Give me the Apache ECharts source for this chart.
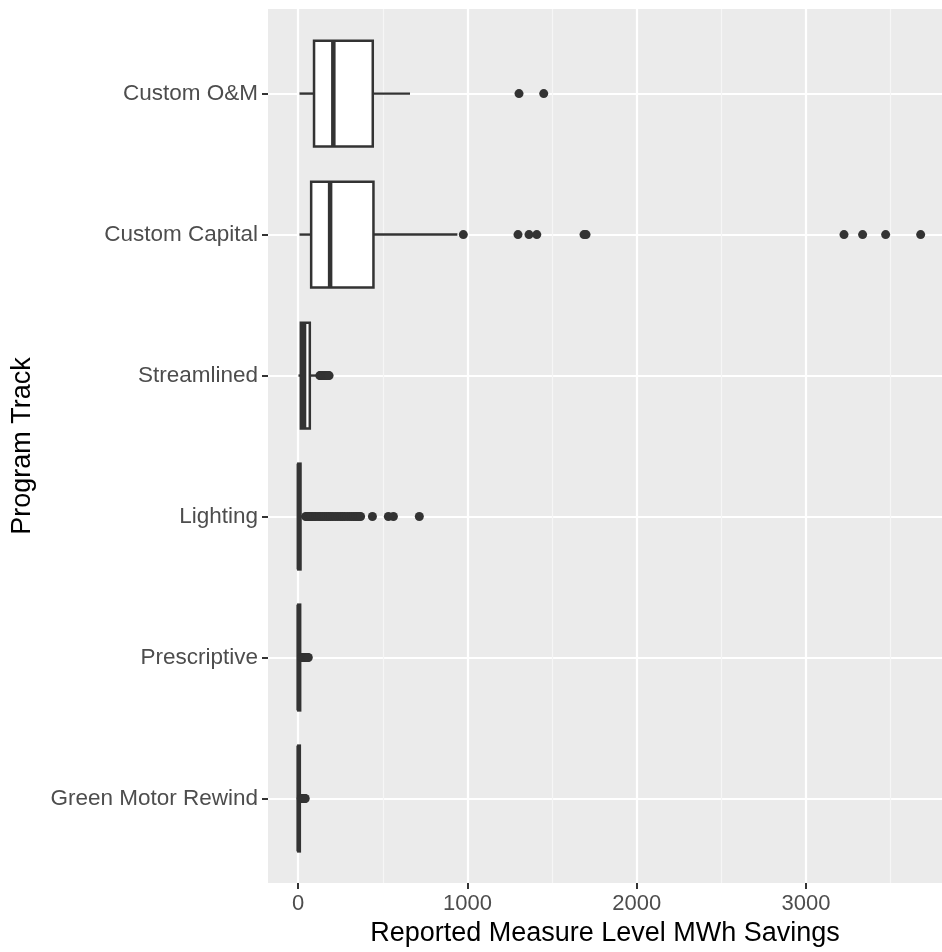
<!DOCTYPE html>
<html>
<head>
<meta charset="utf-8">
<script src="https://cdn.jsdelivr.net/npm/echarts@6/dist/echarts.min.js"></script>
<style>
html,body{margin:0;padding:0;background:#fff;}
#chart{width:942px;height:952px;}
</style>
</head>
<body>
<div id="chart"></div>
<script>
// Categories, top to bottom
const categories = ['Custom O&M', 'Custom Capital', 'Streamlined', 'Lighting', 'Prescriptive', 'Green Motor Rewind'];

// Box statistics (MWh), same order as categories
const boxLow    = [8,   8,   2,   0,  0,  0];
const boxQ1     = [94,  77,  16,  1,  1,  1];
const boxMedian = [208, 189, 35,  4,  3,  3];
const boxQ3     = [441, 445, 69,  14, 12, 10];
const boxHigh   = [661, 941, 118, 32, 18, 16];

// Outliers per category
const outliersCustomOM = [1305, 1451];
const outliersCustomCapital = [976, 1299, 1364, 1410, 1689, 1701, 3225, 3335, 3471, 3678];
const outliersStreamlined = [128, 133, 138, 142, 147, 151, 156, 160, 166, 171, 176, 183];
const outliersLighting = [45, 52, 60, 68, 75, 85, 95, 105, 118, 130, 142, 155, 168, 180, 192, 205, 220, 235, 250, 262, 275, 290, 305, 318, 330, 342, 352, 360, 369, 439, 533, 563, 716];
const outliersPrescriptive = [20, 24, 28, 32, 36, 40, 45, 50, 55, 60];
const outliersGreenMotor = [18, 22, 26, 30, 34, 38, 42];

// Axis ticks
const xTicks = [0, 1000, 2000, 3000];
const xMinorTicks = [500, 1500, 2500, 3500];
const yTicks = [1, 2, 3, 4, 5, 6];

const outlierGroups = [outliersCustomOM, outliersCustomCapital, outliersStreamlined, outliersLighting, outliersPrescriptive, outliersGreenMotor];

const boxData = categories.map((c, i) => [i + 1, boxLow[i], boxQ1[i], boxMedian[i], boxQ3[i], boxHigh[i]]);
const outlierData = [];
outlierGroups.forEach((g, i) => g.forEach(v => outlierData.push([v, i + 1])));

const FONT = '"Liberation Sans", Arial, sans-serif';
const DARK = '#333333';

function renderBox(params, api) {
  const y = api.value(0);
  const pLow = api.coord([api.value(1), y]);
  const pQ1 = api.coord([api.value(2), y]);
  const pMed = api.coord([api.value(3), y]);
  const pQ3 = api.coord([api.value(4), y]);
  const pHigh = api.coord([api.value(5), y]);
  const h = Math.abs(api.size([0, 0.75])[1]);
  const cy = pQ1[1];
  const top = cy - h / 2;
  return {
    type: 'group',
    children: [
      { type: 'line', shape: { x1: pLow[0], y1: cy, x2: pQ1[0], y2: cy }, style: { stroke: DARK, lineWidth: 2.4 } },
      { type: 'line', shape: { x1: pQ3[0], y1: cy, x2: pHigh[0], y2: cy }, style: { stroke: DARK, lineWidth: 2.4 } },
      { type: 'rect', shape: { x: pQ1[0], y: top, width: pQ3[0] - pQ1[0], height: h }, style: { fill: '#FFFFFF', stroke: DARK, lineWidth: 2.5 } },
      { type: 'line', shape: { x1: pMed[0], y1: top, x2: pMed[0], y2: top + h }, style: { stroke: DARK, lineWidth: 4.5 } }
    ]
  };
}

const chart = echarts.init(document.getElementById('chart'), null, { renderer: 'canvas' });
chart.setOption({
  animation: false,
  backgroundColor: '#FFFFFF',
  textStyle: { fontFamily: FONT },
  grid: { left: 268, right: 0, top: 9, bottom: 64, show: true, backgroundColor: '#EBEBEB', borderWidth: 0, containLabel: false },
  xAxis: [
    {
      type: 'value', min: -178, max: 3804,
      name: 'Reported Measure Level MWh Savings', nameLocation: 'middle', nameGap: 35,
      nameTextStyle: { color: '#000000', fontSize: 27, fontFamily: FONT },
      axisLine: { show: false, onZero: false },
      axisTick: { show: true, length: 6, lineStyle: { color: DARK, width: 2 }, customValues: xTicks },
      axisLabel: { color: '#4D4D4D', fontSize: 22, margin: 10, fontFamily: FONT, customValues: xTicks,
        formatter: v => String(v) },
      splitLine: { show: true, lineStyle: { color: '#FFFFFF', width: 2.2 } },
      z: 1
    },
    {
      type: 'value', min: -178, max: 3804, position: 'bottom',
      axisLine: { show: false, onZero: false },
      axisTick: { show: false, customValues: xMinorTicks },
      axisLabel: { show: false, customValues: xMinorTicks },
      splitLine: { show: true, lineStyle: { color: '#F6F6F6', width: 1.2 } },
      z: 0
    }
  ],
  yAxis: {
    type: 'value', min: 0.4, max: 6.6, inverse: true,
    name: 'Program Track', nameLocation: 'middle', nameGap: 232,
    nameTextStyle: { color: '#000000', fontSize: 27, fontFamily: FONT },
    axisLine: { show: false, onZero: false },
    axisTick: { show: true, length: 6, lineStyle: { color: DARK, width: 2 }, customValues: yTicks },
    axisLabel: { color: '#4D4D4D', fontSize: 22.5, margin: 10, fontFamily: FONT, customValues: yTicks,
      formatter: v => categories[Math.round(v) - 1] || '' },
    splitLine: { show: true, lineStyle: { color: '#FFFFFF', width: 2.2 } }
  },
  series: [
    {
      type: 'custom', xAxisIndex: 0, renderItem: renderBox,
      encode: { x: [1, 2, 3, 4, 5], y: 0 },
      data: boxData, z: 3
    },
    {
      type: 'scatter', xAxisIndex: 0, symbol: 'circle', symbolSize: 9,
      itemStyle: { color: DARK, opacity: 1 },
      data: outlierData, z: 4
    }
  ]
});
</script>
</body>
</html>
